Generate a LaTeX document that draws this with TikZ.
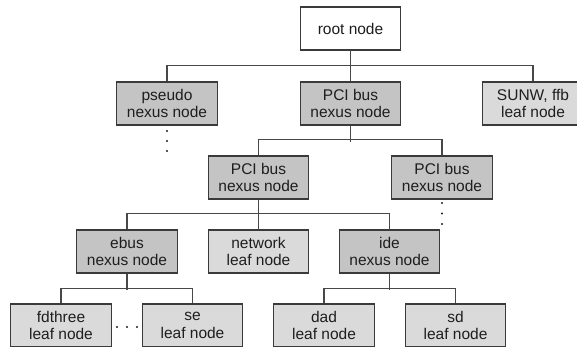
\documentclass[tikz,border=0pt]{standalone}
\usepackage{fontspec}
\setmainfont{Liberation Sans}
\definecolor{nexusfill}{HTML}{C4C4C4}
\definecolor{leaffill}{HTML}{DADADA}
\definecolor{edgegray}{HTML}{484848}
\definecolor{boxline}{HTML}{3A3A3A}
\definecolor{txt}{HTML}{1E1E1E}
\tikzset{
  treebox/.style={draw=boxline, line width=1.4pt, minimum width=100.5pt, minimum height=43pt,
    inner sep=0pt, align=center, text=txt, font=\fontsize{15.5}{17.5}\selectfont},
  rootbox/.style={treebox, fill=white},
  nexusbox/.style={treebox, fill=nexusfill},
  leafbox/.style={treebox, fill=leaffill},
  link/.style={draw=edgegray, line width=1.4pt},
  dotmark/.style={fill=txt, circle, inner sep=0pt, minimum size=2.4pt}
}
\begin{document}
\begin{tikzpicture}[x=1pt,y=-1pt]
\useasboundingbox (0,0) rectangle (577,347);
\clip (0,0) rectangle (577,347);
% nodes
\node[rootbox]  (root)  at (350.5,28.5) {root node};
\node[nexusbox] (pseudo) at (167,103.5) {pseudo\\nexus node};
\node[nexusbox] (pci1)  at (350.5,103.5) {PCI bus\\nexus node};
\node[leafbox]  (sunw)  at (533,103.5) {SUNW, ffb\\leaf node};
\node[nexusbox] (pcia)  at (258.5,177.5) {PCI bus\\nexus node};
\node[nexusbox] (pcib)  at (442,177.5) {PCI bus\\nexus node};
\node[nexusbox] (ebus)  at (127,251.5) {ebus\\nexus node};
\node[leafbox]  (net)   at (258.5,251.5) {network\\leaf node};
\node[nexusbox] (ide)   at (389.5,251.5) {ide\\nexus node};
\node[leafbox]  (fd)    at (61,325.5) {fdthree\\leaf node};
\node[leafbox]  (se)    at (192.5,325.5) {se\\leaf node};
\node[leafbox]  (dad)   at (324,325.5) {dad\\leaf node};
\node[leafbox]  (sd)    at (455.5,325.5) {sd\\leaf node};
% connectors
\draw[link] (root.south) -- (pci1.north);
\draw[link] (pseudo.north) -- ++(0,-16) -| (sunw.north);
\draw[link] (pci1.south) -- ++(0,16);
\draw[link] (pcia.north) -- ++(0,-16) -| (pcib.north);
\draw[link] (pcia.south) -- (net.north);
\draw[link] (ebus.north) -- ++(0,-16) -| (ide.north);
\draw[link] (ebus.south) -- ++(0,16);
\draw[link] (fd.north) -- ++(0,-15) -| (se.north);
\draw[link] (ide.south) -- ++(0,16);
\draw[link] (dad.north) -- ++(0,-15) -| (sd.north);
% ellipsis dots
\node[dotmark] (p1) at (167,131) {};
\node[dotmark] (p2) at (167,141) {};
\node[dotmark] (p3) at (167,151) {};
\node[dotmark] (q1) at (442,203) {};
\node[dotmark] (q2) at (442,213.5) {};
\node[dotmark] (q3) at (442,224) {};
\node[dotmark] (r1) at (117,327) {};
\node[dotmark] (r2) at (127,327) {};
\node[dotmark] (r3) at (137,327) {};
\end{tikzpicture}
\end{document}
